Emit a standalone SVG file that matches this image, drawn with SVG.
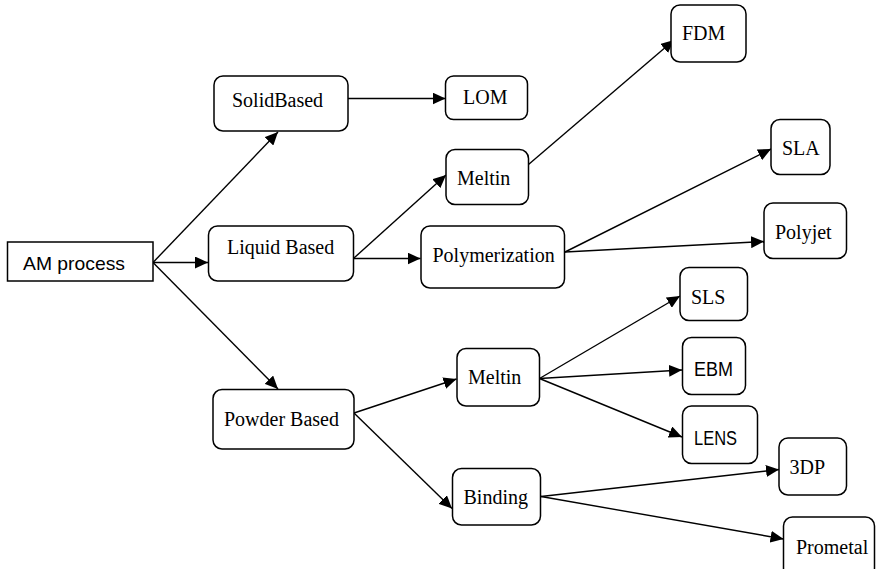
<svg xmlns="http://www.w3.org/2000/svg" width="876" height="569" viewBox="0 0 876 569">
  <defs>
    <marker id="arrow" markerUnits="userSpaceOnUse" markerWidth="14" markerHeight="12" refX="13" refY="6" orient="auto">
      <path d="M0,0 L13,6 L0,12 Z" fill="#000"/>
    </marker>
  </defs>
  <style>
    .box { fill: #fff; stroke: #000; stroke-width: 1.5; }
    .serif { font-family: "Liberation Serif", "Times New Roman", serif; font-size: 20px; fill: #000; }
    .sans { font-family: "Liberation Sans", Arial, sans-serif; font-size: 19px; fill: #000; }
    .sans-lg { font-family: "Liberation Sans", Arial, sans-serif; font-size: 20px; fill: #000; }
    .edge { fill: none; stroke: #000; stroke-width: 1.4; marker-end: url(#arrow); }
  </style>
  <rect width="876" height="569" fill="#fff"/>

  <g id="connectors">
    <line class="edge" x1="153" y1="262.5" x2="278" y2="132"/>
    <line class="edge" x1="153" y1="262.5" x2="208" y2="262.5"/>
    <line class="edge" x1="153" y1="262.5" x2="278" y2="389"/>
    <line class="edge" x1="348" y1="98.5" x2="445.5" y2="98.5"/>
    <line class="edge" x1="354" y1="258" x2="446" y2="175"/>
    <line class="edge" x1="354" y1="258.5" x2="420.5" y2="258.5"/>
    <line class="edge" x1="528.5" y1="164.5" x2="674" y2="40"/>
    <line class="edge" x1="565" y1="252" x2="771" y2="149"/>
    <line class="edge" x1="565" y1="252" x2="764" y2="241.5"/>
    <line class="edge" x1="354" y1="413" x2="456.5" y2="379"/>
    <line class="edge" x1="354" y1="413" x2="452" y2="508.5"/>
    <line class="edge" x1="539.5" y1="378.5" x2="680" y2="296"/>
    <line class="edge" x1="539.5" y1="378.5" x2="682" y2="370"/>
    <line class="edge" x1="539.5" y1="378.5" x2="682" y2="437"/>
    <line class="edge" x1="541" y1="496.5" x2="779" y2="469.5"/>
    <line class="edge" x1="541" y1="496.5" x2="783.5" y2="539"/>
  </g>

  <g id="am-process">
    <rect class="box" x="7.5" y="242" width="145.5" height="39"/>
    <text class="sans" x="23" y="270" textLength="102" lengthAdjust="spacingAndGlyphs">AM process</text>
  </g>
  <g id="solid-based">
    <rect class="box" x="214" y="76" width="134" height="55" rx="9"/>
    <text class="serif" x="232" y="107">SolidBased</text>
  </g>
  <g id="liquid-based">
    <rect class="box" x="208.5" y="226" width="145" height="55" rx="9"/>
    <text class="serif" x="227" y="254">Liquid Based</text>
  </g>
  <g id="powder-based">
    <rect class="box" x="213" y="389.5" width="141" height="59.5" rx="9"/>
    <text class="serif" x="224" y="426">Powder Based</text>
  </g>
  <g id="lom">
    <rect class="box" x="445.5" y="76" width="82" height="43.5" rx="8"/>
    <text class="serif" x="463" y="104">LOM</text>
  </g>
  <g id="meltin-liquid">
    <rect class="box" x="446" y="149.5" width="82.5" height="55" rx="9"/>
    <text class="serif" x="457" y="185">Meltin</text>
  </g>
  <g id="polymerization">
    <rect class="box" x="421" y="226" width="143.5" height="62" rx="9"/>
    <text class="serif" x="432.5" y="262">Polymerization</text>
  </g>
  <g id="fdm">
    <rect class="box" x="671" y="5" width="75" height="57" rx="9"/>
    <text class="serif" x="682" y="40">FDM</text>
  </g>
  <g id="sla">
    <rect class="box" x="771" y="119.5" width="59" height="55" rx="9"/>
    <text class="serif" x="782" y="155">SLA</text>
  </g>
  <g id="polyjet">
    <rect class="box" x="764" y="203" width="82.5" height="55.5" rx="9"/>
    <text class="serif" x="775" y="238.5">Polyjet</text>
  </g>
  <g id="meltin-powder">
    <rect class="box" x="457" y="348.5" width="82.5" height="57.5" rx="9"/>
    <text class="serif" x="468" y="384">Meltin</text>
  </g>
  <g id="binding">
    <rect class="box" x="452.5" y="468.5" width="88" height="56.5" rx="9"/>
    <text class="serif" x="463.5" y="504">Binding</text>
  </g>
  <g id="sls">
    <rect class="box" x="680" y="267.5" width="67.5" height="53" rx="9"/>
    <text class="serif" x="691" y="303.5">SLS</text>
  </g>
  <g id="ebm">
    <rect class="box" x="682.5" y="337.5" width="63" height="57" rx="9"/>
    <text class="sans-lg" x="694" y="376" textLength="39" lengthAdjust="spacingAndGlyphs">EBM</text>
  </g>
  <g id="lens">
    <rect class="box" x="682.5" y="406" width="75" height="57.5" rx="9"/>
    <text class="sans-lg" x="694" y="445" textLength="43" lengthAdjust="spacingAndGlyphs">LENS</text>
  </g>
  <g id="three-dp">
    <rect class="box" x="779" y="438" width="67.5" height="57" rx="9"/>
    <text class="serif" x="789.5" y="473.5">3DP</text>
  </g>
  <g id="prometal">
    <rect class="box" x="783.5" y="517" width="91" height="60" rx="9"/>
    <text class="serif" x="796" y="553.5">Prometal</text>
  </g>
</svg>
